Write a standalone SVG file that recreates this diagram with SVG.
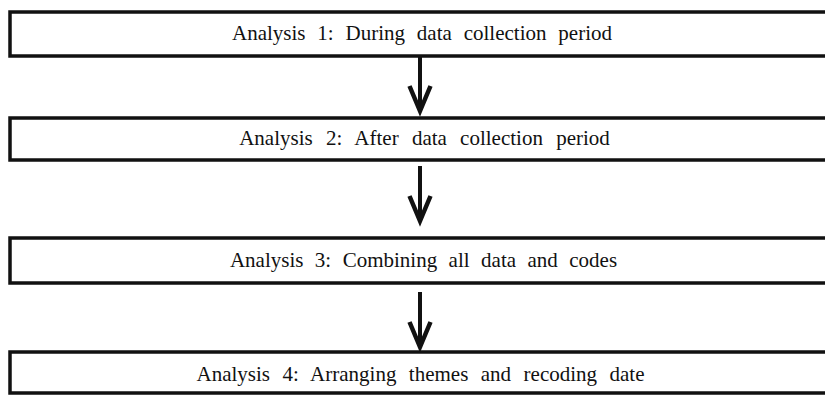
<svg xmlns="http://www.w3.org/2000/svg" width="825" height="395" viewBox="0 0 825 395">
  <style>
    .box { fill: #ffffff; stroke: #111111; stroke-width: 3.5; }
    .label { font-family: "Liberation Serif", "DejaVu Serif", serif; font-size: 21px; fill: #111111; text-anchor: middle; }
    .shaft { stroke: #111111; stroke-width: 4; fill: none; }
    .head { stroke: #111111; stroke-width: 4.5; fill: none; stroke-linejoin: miter; stroke-miterlimit: 10; }
  </style>
  <rect width="825" height="395" fill="#ffffff"/>

  <g id="analysis1">
    <rect class="box" x="10" y="12" width="830" height="44"/>
    <text class="label" x="422" y="40" word-spacing="6.6">Analysis 1: During data collection period</text>
  </g>
  <g id="analysis2">
    <rect class="box" x="10" y="118" width="830" height="42"/>
    <text class="label" x="424.5" y="145" word-spacing="8">Analysis 2: After data collection period</text>
  </g>
  <g id="analysis3">
    <rect class="box" x="10" y="238" width="830" height="45"/>
    <text class="label" x="423.5" y="267" word-spacing="6.2">Analysis 3: Combining all data and codes</text>
  </g>
  <g id="analysis4">
    <rect class="box" x="10" y="352" width="830" height="41"/>
    <text class="label" x="420.5" y="381" word-spacing="7.2">Analysis 4: Arranging themes and recoding date</text>
  </g>

  <g id="connectors">
    <line class="shaft" x1="420" y1="57" x2="420" y2="110"/>
    <polyline class="head" points="409.5,86 420,111 430.5,86"/>
    <line class="shaft" x1="420" y1="166" x2="420" y2="220"/>
    <polyline class="head" points="409.5,196 420,221 430.5,196"/>
    <line class="shaft" x1="420" y1="292" x2="420" y2="347"/>
    <polyline class="head" points="409.5,322 420,347 430.5,322"/>
  </g>
</svg>
